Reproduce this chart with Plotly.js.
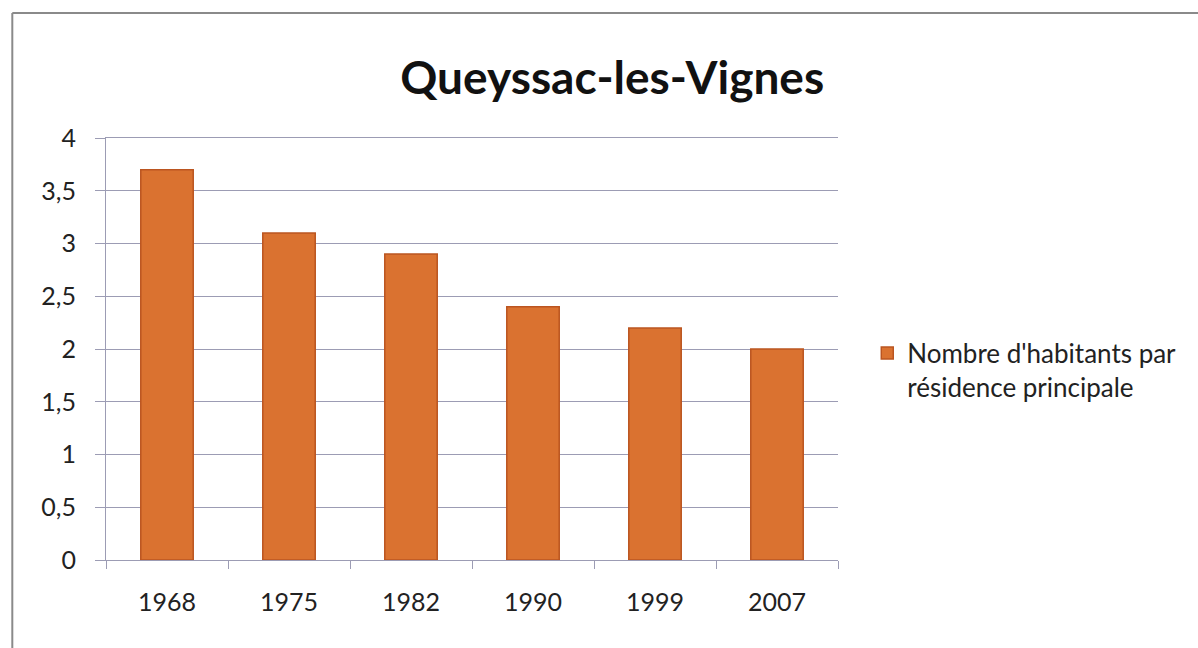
<!DOCTYPE html>
<html>
<head>
<meta charset="utf-8">
<script src="https://cdn.plot.ly/plotly-3.0.1.min.js"></script>
<style>html,body{margin:0;padding:0;background:#fff;}#chart{width:1198px;height:648px;}</style>
</head>
<body>
<div id="chart"></div>
<script>
const years = ['1968', '1975', '1982', '1990', '1999', '2007'];
const habitantsParResidence = [3.7, 3.1, 2.9, 2.4, 2.2, 2.0];
const seriesName = "Nombre d'habitants par<br>résidence principale";
const yTickVals = [0, 0.5, 1, 1.5, 2, 2.5, 3, 3.5, 4];
const yTickText = ['0', '0,5', '1', '1,5', '2', '2,5', '3', '3,5', '4'];

const trace = {
  type: 'bar',
  x: years,
  y: habitantsParResidence,
  name: seriesName,
  showlegend: true,
  marker: { color: '#da7230', line: { color: '#bb5520', width: 1.5 } },
  hoverinfo: 'x+y'
};

const gridCol = '#9c9cb4';
const layout = {
  width: 1198, height: 648,
  paper_bgcolor: '#ffffff', plot_bgcolor: '#ffffff',
  font: { family: 'Lato, "Open Sans", sans-serif', color: '#222222' },
  margin: { l: 106, r: 360, t: 138, b: 88 },
  title: { text: 'Queyssac-les-Vignes', x: 0.511, xanchor: 'center', y: 0.88, yanchor: 'middle',
           font: { size: 46, family: 'Lato, sans-serif', weight: 'bold', color: '#111111' } },
  bargap: 0.57,
  xaxis: {
    type: 'category', showgrid: false, showline: true, linecolor: gridCol, linewidth: 1, mirror: true,
    ticks: 'outside', tickson: 'boundaries', ticklen: 8, tickcolor: gridCol,
    tickfont: { size: 25, color: '#222' }, ticklabelstandoff: 20, fixedrange: true
  },
  yaxis: {
    range: [0, 4], tickvals: yTickVals, ticktext: yTickText,
    showgrid: true, gridcolor: gridCol, gridwidth: 1,
    showline: true, linecolor: gridCol, zeroline: false,
    ticks: 'outside', ticklen: 10, tickcolor: gridCol,
    tickfont: { size: 25, color: '#222' }, ticklabelstandoff: 14, fixedrange: true
  },
  legend: {
    x: 1.04, xanchor: 'left', y: 0.45, yanchor: 'middle', valign: 'top',
    font: { size: 26, color: '#222' }, bgcolor: 'rgba(0,0,0,0)', itemwidth: 30, tracegroupgap: 0
  },
  shapes: [
    { type: 'line', xref: 'paper', yref: 'paper', x0: -0.128, x1: -0.128, y0: -0.22, y1: 1.296, line: { color: '#8a8a8a', width: 2 } },
    { type: 'line', xref: 'paper', yref: 'paper', x0: -0.128, x1: 1.5, y0: 1.296, y1: 1.296, line: { color: '#8a8a8a', width: 2 } }
  ]
};

Plotly.newPlot('chart', [trace], layout, { displayModeBar: false, staticPlot: true });
</script>
</body>
</html>
